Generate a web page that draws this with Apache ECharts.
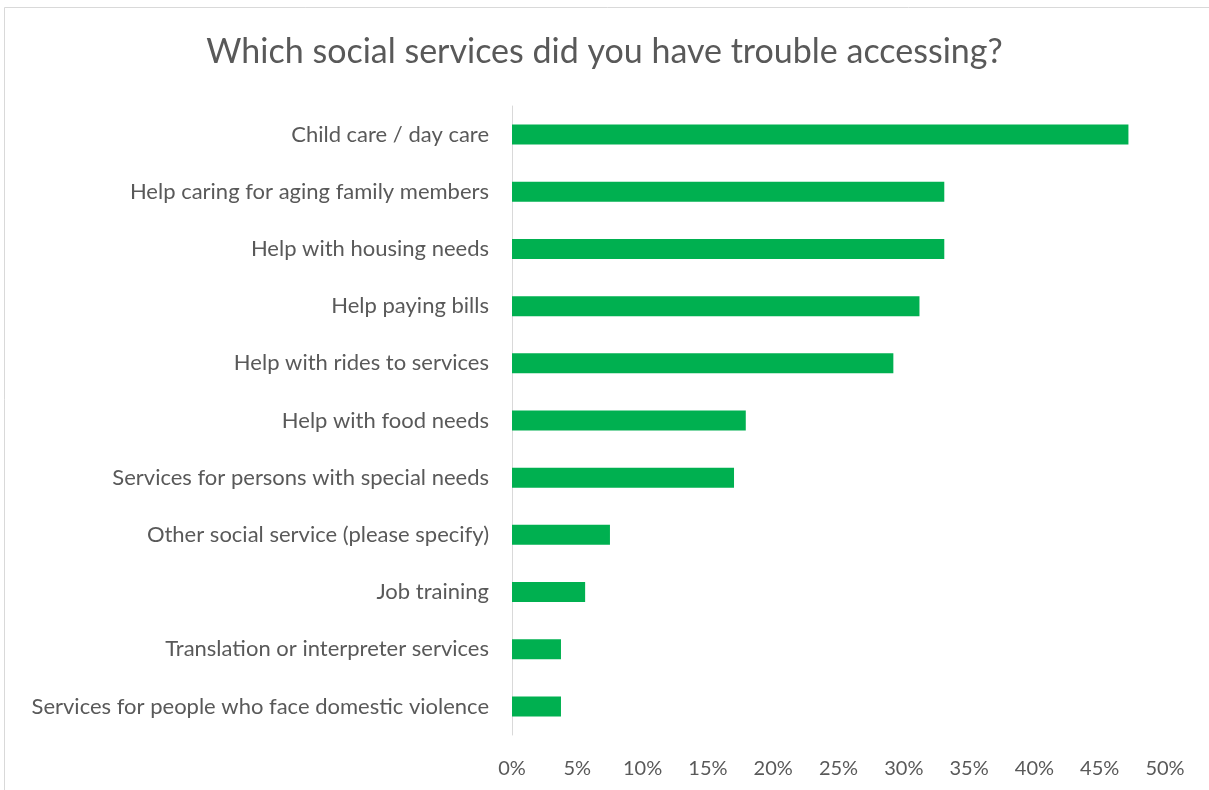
<!DOCTYPE html>
<html><head><meta charset="utf-8">
<script src="https://cdn.jsdelivr.net/npm/echarts@6/dist/echarts.min.js"></script>
<style>html,body{margin:0;padding:0;background:#fff}#c{width:1209px;height:790px}</style>
</head><body><div id="c"></div>
<script>
const categories = ["Child care / day care","Help caring for aging family members","Help with housing needs","Help paying bills","Help with rides to services","Help with food needs","Services for persons with special needs","Other social service (please specify)","Job training","Translation or interpreter services","Services for people who face domestic violence"];
const values = [47.2,33.1,33.1,31.2,29.2,17.9,17.0,7.5,5.6,3.75,3.75];
const xTicks = [0,5,10,15,20,25,30,35,40,45,50];
const FONT = "Lato";
const chart = echarts.init(document.getElementById('c'), null, {renderer:'canvas'});
chart.setOption({
  animation:false,
  backgroundColor:'#fff',
  graphic:[{type:'rect',shape:{x:4.5,y:7.5,width:1210,height:790},style:{fill:'none',stroke:'#d9d9d9',lineWidth:1},silent:true}],
  title:{text:'Which social services did you have trouble accessing?',left:'center',top:30,
    textStyle:{fontFamily:FONT,fontSize:34,fontWeight:'normal',color:'#595959'}},
  grid:{left:512,right:44,top:106,bottom:55,containLabel:false},
  xAxis:{type:'value',min:xTicks[0],max:xTicks[xTicks.length-1],interval:5,
    axisLine:{show:false},axisTick:{show:false},splitLine:{show:false},
    axisLabel:{formatter:v=>v+'%',fontFamily:FONT,fontSize:20,color:'#595959',margin:24}},
  yAxis:{type:'category',data:categories,inverse:true,
    axisLine:{show:true,lineStyle:{color:'#d9d9d9',width:1}},axisTick:{show:false},
    axisLabel:{fontFamily:FONT,fontSize:22,color:'#595959',margin:23}},
  series:[{type:'bar',data:values,barWidth:'35%',itemStyle:{color:'#00b050'}}]
});
</script></body></html>
